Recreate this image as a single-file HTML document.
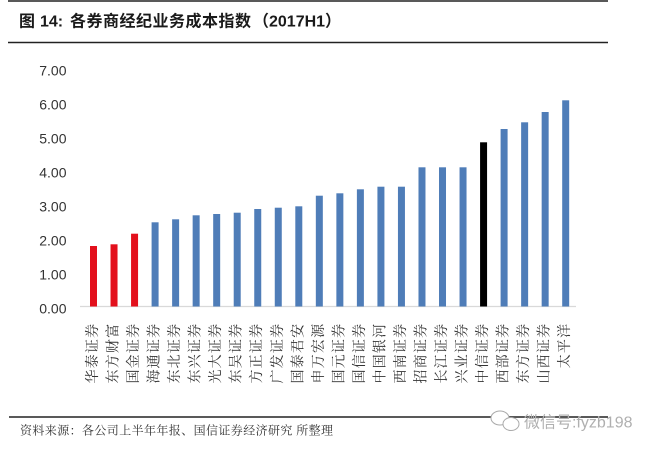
<!DOCTYPE html>
<html>
<head>
<meta charset="utf-8">
<style>
  html,body{margin:0;padding:0;background:#fff;}
  svg{display:block;}
</style>
</head>
<body>
<svg width="660" height="452" viewBox="0 0 660 452" xmlns="http://www.w3.org/2000/svg">
  <rect x="0" y="0" width="660" height="452" fill="#fff"/>
  <!-- header rules -->
  <line x1="8" y1="1" x2="608" y2="1" stroke="#222" stroke-width="1.6"/>
  <line x1="8" y1="42.5" x2="608" y2="42.5" stroke="#222" stroke-width="1.6"/>
  <!-- title -->
  <text y="26.5" font-size="16" font-weight="bold" fill="#1a1a1a" font-family="'Liberation Sans','Noto Sans CJK SC',sans-serif">
    <tspan x="19">图</tspan><tspan x="40">14:</tspan><tspan x="70" letter-spacing="0.5">各券商经纪业务成本指数</tspan><tspan x="253">（2017H1）</tspan>
  </text>

  <!-- y axis labels -->
  <g font-family="'Liberation Sans',sans-serif" font-size="14" fill="#333" text-anchor="end">
    <text x="66.5" y="75.5">7.00</text>
    <text x="66.5" y="109.5">6.00</text>
    <text x="66.5" y="143.4">5.00</text>
    <text x="66.5" y="177.4">4.00</text>
    <text x="66.5" y="211.4">3.00</text>
    <text x="66.5" y="245.4">2.00</text>
    <text x="66.5" y="279.3">1.00</text>
    <text x="66.5" y="313.3">0.00</text>
  </g>

  <!-- axis line -->
  <line x1="80" y1="306.5" x2="576" y2="306.5" stroke="#d9d9d9" stroke-width="1.2"/>

  <!-- bars -->
  <g>
    <rect x="90" y="246" width="7" height="60.5" fill="#e3101c"/>
    <rect x="110.53" y="244.3" width="7" height="62.2" fill="#e3101c"/>
    <rect x="131.06" y="233.7" width="7" height="72.8" fill="#e3101c"/>
    <rect x="151.59" y="222.3" width="7" height="84.2" fill="#4f7db8"/>
    <rect x="172.12" y="219.3" width="7" height="87.2" fill="#4f7db8"/>
    <rect x="192.65" y="215.3" width="7" height="91.2" fill="#4f7db8"/>
    <rect x="213.18" y="214" width="7" height="92.5" fill="#4f7db8"/>
    <rect x="233.71" y="212.7" width="7" height="93.8" fill="#4f7db8"/>
    <rect x="254.24" y="209" width="7" height="97.5" fill="#4f7db8"/>
    <rect x="274.77" y="207.7" width="7" height="98.8" fill="#4f7db8"/>
    <rect x="295.3" y="206.3" width="7" height="100.2" fill="#4f7db8"/>
    <rect x="315.83" y="195.7" width="7" height="110.8" fill="#4f7db8"/>
    <rect x="336.36" y="193.3" width="7" height="113.2" fill="#4f7db8"/>
    <rect x="356.89" y="189.3" width="7" height="117.2" fill="#4f7db8"/>
    <rect x="377.42" y="186.7" width="7" height="119.8" fill="#4f7db8"/>
    <rect x="397.95" y="186.7" width="7" height="119.8" fill="#4f7db8"/>
    <rect x="418.48" y="167.3" width="7" height="139.2" fill="#4f7db8"/>
    <rect x="439.01" y="167.3" width="7" height="139.2" fill="#4f7db8"/>
    <rect x="459.54" y="167.3" width="7" height="139.2" fill="#4f7db8"/>
    <rect x="480.07" y="142.3" width="7" height="164.2" fill="#000"/>
    <rect x="500.6" y="129" width="7" height="177.5" fill="#4f7db8"/>
    <rect x="521.13" y="122.3" width="7" height="184.2" fill="#4f7db8"/>
    <rect x="541.66" y="112" width="7" height="194.5" fill="#4f7db8"/>
    <rect x="562.19" y="100.3" width="7" height="206.2" fill="#4f7db8"/>
  </g>

  <!-- x labels (rotated) -->
  <g font-family="'Liberation Serif','Noto Serif CJK SC',serif" font-size="14" fill="#333" text-anchor="end" dominant-baseline="central" letter-spacing="1.2">
    <text transform="translate(93.5,322.7) rotate(-90)">华泰证券</text>
    <text transform="translate(114.03,322.7) rotate(-90)">东方财富</text>
    <text transform="translate(134.56,322.7) rotate(-90)">国金证券</text>
    <text transform="translate(155.09,322.7) rotate(-90)">海通证券</text>
    <text transform="translate(175.62,322.7) rotate(-90)">东北证券</text>
    <text transform="translate(196.15,322.7) rotate(-90)">东兴证券</text>
    <text transform="translate(216.68,322.7) rotate(-90)">光大证券</text>
    <text transform="translate(237.21,322.7) rotate(-90)">东吴证券</text>
    <text transform="translate(257.74,322.7) rotate(-90)">方正证券</text>
    <text transform="translate(278.27,322.7) rotate(-90)">广发证券</text>
    <text transform="translate(298.8,322.7) rotate(-90)">国泰君安</text>
    <text transform="translate(319.33,322.7) rotate(-90)">申万宏源</text>
    <text transform="translate(339.86,322.7) rotate(-90)">国元证券</text>
    <text transform="translate(360.39,322.7) rotate(-90)">国信证券</text>
    <text transform="translate(380.92,322.7) rotate(-90)">中国银河</text>
    <text transform="translate(401.45,322.7) rotate(-90)">西南证券</text>
    <text transform="translate(421.98,322.7) rotate(-90)">招商证券</text>
    <text transform="translate(442.51,322.7) rotate(-90)">长江证券</text>
    <text transform="translate(463.04,322.7) rotate(-90)">兴业证券</text>
    <text transform="translate(483.57,322.7) rotate(-90)">中信证券</text>
    <text transform="translate(504.1,322.7) rotate(-90)">西部证券</text>
    <text transform="translate(524.63,322.7) rotate(-90)">东方证券</text>
    <text transform="translate(545.16,322.7) rotate(-90)">山西证券</text>
    <text transform="translate(565.69,322.7) rotate(-90)">太平洋</text>
  </g>

  <!-- footer -->
  <line x1="9" y1="417" x2="608" y2="417" stroke="#222" stroke-width="1.6"/>
  <text x="20" y="434.5" font-size="12" letter-spacing="0.4" fill="#333" font-family="'Liberation Serif','Noto Serif CJK SC',serif">资料来源：各公司上半年年报、国信证券经济研究 所整理</text>

  <!-- watermark -->
  <g fill="#fff" stroke="#aaa" stroke-width="1">
    <ellipse cx="500" cy="418" rx="9" ry="7"/>
    <ellipse cx="511" cy="424" rx="8" ry="6.5"/>
  </g>
  <text x="524" y="427.5" font-size="16" fill="#b0b0b0" font-family="'Liberation Sans','Noto Sans CJK SC',sans-serif">微信号:fyzb198</text>
</svg>
</body>
</html>
